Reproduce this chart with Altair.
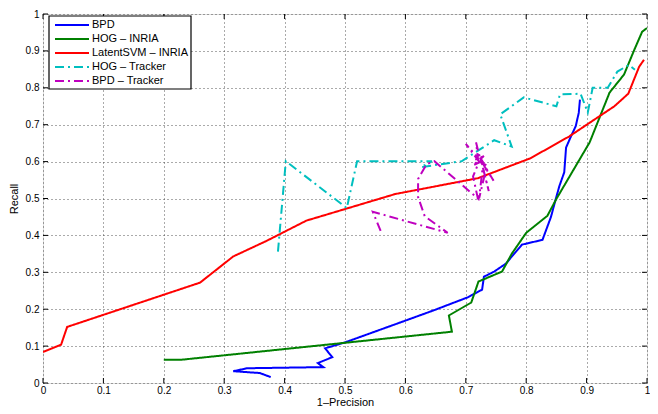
import altair as alt
import pandas as pd

series_names = ["BPD", "HOG – INRIA", "LatentSVM – INRIA", "HOG – Tracker", "BPD – Tracker"]
series_colors = ["#0000FF", "#008000", "#FF0000", "#00BFBF", "#BF00BF"]
series_dash = [[1, 0], [1, 0], [1, 0], [9, 4, 2, 4], [9, 4, 2, 4]]

bpd_x = [0.377, 0.359, 0.315, 0.338, 0.464, 0.455, 0.479, 0.467, 0.5, 0.583, 0.647, 0.703, 0.727,
         0.73, 0.747, 0.766, 0.793, 0.827, 0.841, 0.849, 0.855, 0.863, 0.866, 0.874, 0.882, 0.887, 0.889]
bpd_y = [0.016, 0.027, 0.032, 0.04, 0.043, 0.054, 0.07, 0.094, 0.11, 0.159, 0.197, 0.232, 0.253,
         0.288, 0.302, 0.323, 0.375, 0.388, 0.45, 0.499, 0.534, 0.571, 0.638, 0.668, 0.696, 0.732, 0.768]

hog_x = [0.2, 0.229, 0.677, 0.672, 0.709, 0.721, 0.76, 0.776, 0.8, 0.835, 0.85, 0.905, 0.938,
         0.962, 0.979, 0.992, 1.0]
hog_y = [0.063, 0.063, 0.139, 0.183, 0.218, 0.275, 0.302, 0.35, 0.407, 0.453, 0.499, 0.652, 0.787,
         0.836, 0.903, 0.952, 0.962]

lsvm_x = [0.0, 0.03, 0.04, 0.26, 0.315, 0.37, 0.436, 0.583, 0.72, 0.807, 0.871, 0.946, 0.969, 0.987, 0.995]
lsvm_y = [0.084, 0.104, 0.152, 0.272, 0.343, 0.385, 0.44, 0.512, 0.555, 0.609, 0.668, 0.75, 0.784, 0.857, 0.876]

hogt_x = [0.389, 0.402, 0.503, 0.52, 0.644, 0.626, 0.693, 0.747, 0.776, 0.757, 0.796, 0.85, 0.856,
          0.89, 0.902, 0.91, 0.935, 0.951, 0.97, 0.98]
hogt_y = [0.356, 0.601, 0.474, 0.601, 0.601, 0.585, 0.601, 0.658, 0.641, 0.728, 0.774, 0.75, 0.782,
          0.784, 0.733, 0.8, 0.8, 0.844, 0.862, 0.849]

bpdt_x = [0.559, 0.546, 0.670, 0.632, 0.621, 0.621, 0.635, 0.648, 0.720, 0.712, 0.722, 0.700, 0.720,
          0.717, 0.725, 0.712, 0.730, 0.715, 0.735, 0.722, 0.728, 0.738, 0.726, 0.746, 0.720, 0.730]
bpdt_y = [0.412, 0.464, 0.407, 0.452, 0.504, 0.553, 0.593, 0.601, 0.500, 0.560, 0.600, 0.648, 0.610,
          0.652, 0.600, 0.590, 0.615, 0.605, 0.590, 0.500, 0.585, 0.520, 0.600, 0.548, 0.620, 0.595]

tick_values = [0, 0.1, 0.2, 0.3, 0.4, 0.5, 0.6, 0.7, 0.8, 0.9, 1]

rows = []
for name, xs, ys in zip(series_names,
                        [bpd_x, hog_x, lsvm_x, hogt_x, bpdt_x],
                        [bpd_y, hog_y, lsvm_y, hogt_y, bpdt_y]):
    for i, (a, b) in enumerate(zip(xs, ys)):
        rows.append({"series": name, "x": a, "y": b, "i": i})
df = pd.DataFrame(rows)
ticks = pd.DataFrame({"t": tick_values})
legend_df = pd.DataFrame({"series": series_names, "row": list(range(len(series_names)))})

W, H = 604, 369
FONT = "Liberation Sans"

xscale = alt.Scale(domain=[0, 1], nice=False, zero=False)
yscale = alt.Scale(domain=[0, 1], nice=False, zero=False)
color_scale = alt.Scale(domain=series_names, range=series_colors)
dash_scale = alt.Scale(domain=series_names, range=series_dash)

common_axis = dict(values=tick_values, format="~g", ticks=False, labelOverlap=False,
                   labelSeparation=0, labelFlush=False,
                   grid=True, gridDash=[1, 3], gridColor="#444444", gridOpacity=0.9,
                   domain=False, labelFont=FONT, labelFontSize=10, titleFont=FONT,
                   titleFontSize=11, titleFontWeight="normal", labelColor="black",
                   titleColor="black")
xaxis = alt.Axis(title="1–Precision", labelPadding=2, titlePadding=1, **common_axis)
yaxis = alt.Axis(title="Recall", labelPadding=4, titlePadding=6, **common_axis)

lines = alt.Chart(df).mark_line(strokeWidth=2, clip=True).encode(
    x=alt.X("x:Q", scale=xscale, axis=xaxis),
    y=alt.Y("y:Q", scale=yscale, axis=yaxis),
    color=alt.Color("series:N", sort=series_names, scale=color_scale, legend=None),
    strokeDash=alt.StrokeDash("series:N", sort=series_names, scale=dash_scale, legend=None),
    order="i:Q",
)

tick_len = 5
xt_bottom = alt.Chart(ticks).mark_rule(color="black", strokeWidth=1).encode(
    x=alt.X("t:Q", scale=xscale, axis=xaxis), y=alt.value(H), y2=alt.value(H - tick_len))
xt_top = alt.Chart(ticks).mark_rule(color="black", strokeWidth=1).encode(
    x=alt.X("t:Q", scale=xscale, axis=xaxis), y=alt.value(0), y2=alt.value(tick_len))
yt_left = alt.Chart(ticks).mark_rule(color="black", strokeWidth=1).encode(
    y=alt.Y("t:Q", scale=yscale, axis=yaxis), x=alt.value(0), x2=alt.value(tick_len))
yt_right = alt.Chart(ticks).mark_rule(color="black", strokeWidth=1).encode(
    y=alt.Y("t:Q", scale=yscale, axis=yaxis), x=alt.value(W), x2=alt.value(W - tick_len))

# legend box (top-left, inside plot)
legend_box = alt.Chart(legend_df.head(1)).mark_rect(
    fill="white", stroke="black", strokeWidth=1.2).encode(
    x=alt.value(6), x2=alt.value(148), y=alt.value(2), y2=alt.value(75))
legend_base = alt.Chart(legend_df).transform_calculate(ly="11 + 14 * datum.row")
legend_lines = legend_base.mark_rule(strokeWidth=2).encode(
    x=alt.value(12), x2=alt.value(46),
    y=alt.Y("ly:Q", scale=None),
    color=alt.Color("series:N", scale=color_scale, legend=None),
    strokeDash=alt.StrokeDash("series:N", scale=dash_scale, legend=None),
)
legend_text = legend_base.mark_text(align="left", baseline="middle", font=FONT,
                                    fontSize=11, color="black").encode(
    x=alt.value(49), y=alt.Y("ly:Q", scale=None), text="series:N")

chart = alt.layer(lines, xt_bottom, xt_top, yt_left, yt_right,
                  legend_box, legend_lines, legend_text).properties(
    width=W, height=H,
    autosize=alt.AutoSizeParams(type="none"),
    padding={"left": 35, "top": 6, "right": 3, "bottom": 23},
).configure_view(stroke="black", strokeWidth=1.5).configure(background="white")

chart.save("out.html", embed_options={"renderer": "svg", "actions": False})
